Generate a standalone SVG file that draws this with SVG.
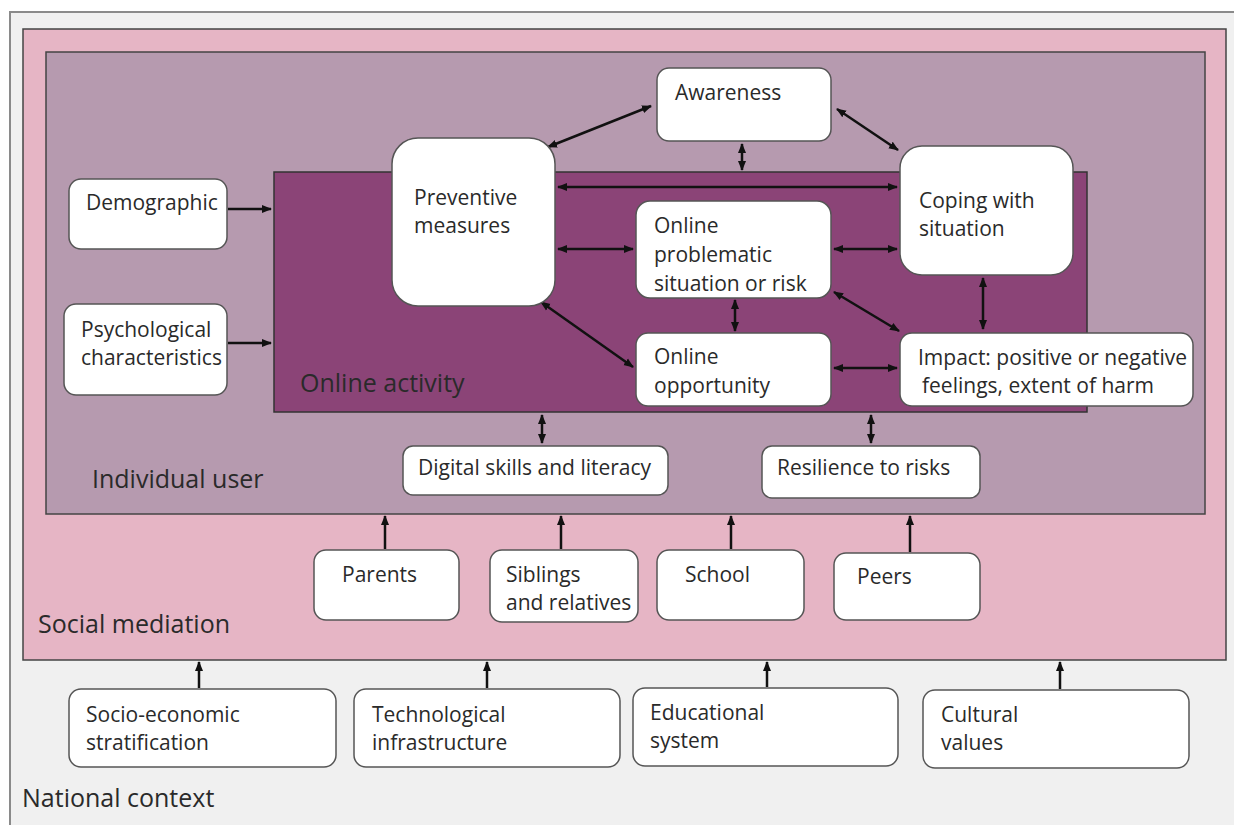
<svg xmlns="http://www.w3.org/2000/svg" width="1234" height="825" viewBox="0 0 1234 825">
<defs>
<marker id="ah" viewBox="0 0 10 10" refX="9" refY="5" markerWidth="4" markerHeight="4" orient="auto-start-reverse" markerUnits="strokeWidth">
<path d="M0,1 L10,5 L0,9 z" fill="#111"/>
</marker>
<style>
.node rect{fill:#fff;stroke:#555;stroke-width:1.5}
text{font-family:"Open Sans","DejaVu Sans",sans-serif;font-size:21px;fill:#2a2a2a}
.big{font-size:25px}
.c line{stroke:#111;stroke-width:2.5}
.bi{marker-start:url(#ah);marker-end:url(#ah)}
.uni{marker-end:url(#ah)}
</style>
</defs>
<rect x="0" y="0" width="1234" height="825" fill="#fff"/>
<g id="national-context">
<rect x="10" y="12" width="1240" height="830" fill="#f0f0f0" stroke="#8a8a8a" stroke-width="2"/>
<text class="big" x="22" y="807">National context</text>
</g>
<g id="social-mediation">
<rect x="23" y="29" width="1203" height="631" fill="#e6b5c5" stroke="#444" stroke-width="1.5"/>
<text class="big" x="38" y="633">Social mediation</text>
</g>
<g id="individual-user">
<rect x="46" y="52" width="1159" height="462" fill="#b69aaf" stroke="#444" stroke-width="1.5"/>
<text class="big" x="92" y="488">Individual user</text>
</g>
<g id="online-activity">
<rect x="274" y="172" width="813" height="240" fill="#8b4477" stroke="#333" stroke-width="1.5"/>
<text class="big" x="300" y="392">Online activity</text>
</g>

<g id="connectors" class="c">
<line class="uni" x1="228" y1="209" x2="271" y2="209"/>
<line class="uni" x1="228" y1="343" x2="271" y2="343"/>
<line class="bi" x1="651" y1="106" x2="548" y2="147"/>
<line class="bi" x1="837" y1="109" x2="898" y2="150"/>
<line class="bi" x1="742" y1="144" x2="742" y2="170"/>
<line class="bi" x1="558" y1="187" x2="897" y2="187"/>
<line class="bi" x1="558" y1="249" x2="633" y2="249"/>
<line class="bi" x1="834" y1="249" x2="897" y2="249"/>
<line class="bi" x1="735" y1="300" x2="735" y2="331"/>
<line class="bi" x1="541" y1="302" x2="633" y2="367"/>
<line class="bi" x1="834" y1="292" x2="899" y2="331"/>
<line class="bi" x1="834" y1="368" x2="897" y2="368"/>
<line class="bi" x1="983" y1="278" x2="983" y2="329"/>
<line class="bi" x1="542" y1="415" x2="542" y2="443"/>
<line class="bi" x1="871" y1="415" x2="871" y2="443"/>
<line class="uni" x1="385" y1="549" x2="385" y2="516"/>
<line class="uni" x1="561" y1="549" x2="561" y2="516"/>
<line class="uni" x1="731" y1="549" x2="731" y2="516"/>
<line class="uni" x1="910" y1="552" x2="910" y2="516"/>
<line class="uni" x1="199" y1="688" x2="199" y2="662"/>
<line class="uni" x1="487" y1="688" x2="487" y2="662"/>
<line class="uni" x1="767" y1="687" x2="767" y2="662"/>
<line class="uni" x1="1060" y1="689" x2="1060" y2="662"/>
</g>

<g id="awareness" class="node"><rect x="657" y="68" width="174" height="73" rx="12"/><text x="675" y="100">Awareness</text></g>
<g id="preventive-measures" class="node"><rect x="392" y="138" width="163" height="168" rx="26"/><text x="414" y="205">Preventive</text><text x="414" y="233">measures</text></g>
<g id="coping" class="node"><rect x="900" y="146" width="173" height="129" rx="22"/><text x="919" y="208">Coping with</text><text x="919" y="236">situation</text></g>
<g id="problematic" class="node"><rect x="636" y="201" width="195" height="97" rx="14"/><text x="654" y="233">Online</text><text x="654" y="262">problematic</text><text x="654" y="291">situation or risk</text></g>
<g id="opportunity" class="node"><rect x="636" y="333" width="195" height="73" rx="12"/><text x="654" y="364">Online</text><text x="654" y="393">opportunity</text></g>
<g id="impact" class="node"><rect x="900" y="333" width="293" height="73" rx="12"/><text x="918" y="365">Impact: positive or negative</text><text x="922" y="393">feelings, extent of harm</text></g>
<g id="demographic" class="node"><rect x="69" y="179" width="158" height="70" rx="12"/><text x="86" y="210">Demographic</text></g>
<g id="psychological" class="node"><rect x="64" y="304" width="163" height="91" rx="12"/><text x="81" y="337">Psychological</text><text x="81" y="365">characteristics</text></g>
<g id="digital-skills" class="node"><rect x="403" y="446" width="265" height="49" rx="10"/><text x="418" y="475">Digital skills and literacy</text></g>
<g id="resilience" class="node"><rect x="762" y="446" width="218" height="52" rx="10"/><text x="777" y="475">Resilience to risks</text></g>
<g id="parents" class="node"><rect x="314" y="550" width="145" height="70" rx="12"/><text x="342" y="582">Parents</text></g>
<g id="siblings" class="node"><rect x="490" y="550" width="148" height="72" rx="12"/><text x="506" y="582">Siblings</text><text x="506" y="610">and relatives</text></g>
<g id="school" class="node"><rect x="657" y="550" width="147" height="70" rx="12"/><text x="685" y="582">School</text></g>
<g id="peers" class="node"><rect x="834" y="553" width="146" height="67" rx="12"/><text x="857" y="584">Peers</text></g>
<g id="socio-economic" class="node"><rect x="69" y="689" width="267" height="78" rx="12"/><text x="86" y="722">Socio-economic</text><text x="86" y="750">stratification</text></g>
<g id="technological" class="node"><rect x="354" y="689" width="266" height="78" rx="12"/><text x="372" y="722">Technological</text><text x="372" y="750">infrastructure</text></g>
<g id="educational" class="node"><rect x="633" y="688" width="265" height="78" rx="12"/><text x="650" y="720">Educational</text><text x="650" y="748">system</text></g>
<g id="cultural" class="node"><rect x="923" y="690" width="266" height="78" rx="12"/><text x="941" y="722">Cultural</text><text x="941" y="750">values</text></g>
</svg>
